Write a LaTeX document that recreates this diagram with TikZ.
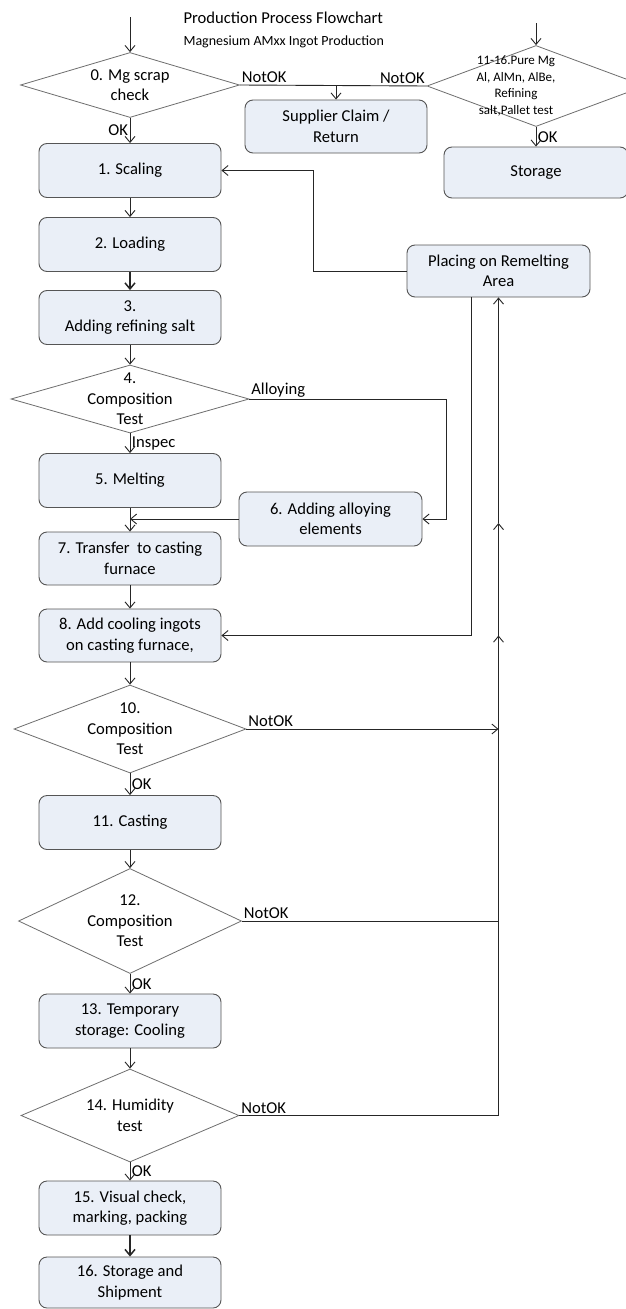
\documentclass[tikz,border=0pt]{standalone}
\usepackage{fontspec}
\setmainfont{Carlito}
\usepackage{xcolor}
\usetikzlibrary{arrows.meta,positioning,shapes.geometric}
\definecolor{boxfill}{RGB}{234,239,247}
\definecolor{edgegray}{RGB}{85,85,85}

\begin{document}
\begin{tikzpicture}[x=1pt, y=-1pt,
    every node/.style={font=\fontsize{16.6}{20.5}\selectfont},
    stepbox/.style={draw=edgegray, fill=boxfill, rounded corners=8pt, line width=0.9pt, minimum width=182pt, minimum height=54pt, align=center, inner sep=2pt},
    decision/.style={draw=edgegray!85, fill=white, diamond, line width=0.8pt, inner sep=0pt},
    decisiontext/.style={align=center},
    flow/.style={draw=black!85, line width=0.9pt, -{Straight Barb[length=6pt,width=10pt]}},
    link/.style={draw=black!85, line width=0.9pt},
    edgelabel/.style={inner sep=1.5pt}]
    \path[use as bounding box, fill=white] (0,0) rectangle (625,1309);

    % Title
    \node[anchor=west] (title) at (180,18) {Production Process Flowchart};
    \node[anchor=west, font=\fontsize{14}{17}\selectfont] (subtitle) at (180,42) {Magnesium AMxx Ingot Production};

    % Mg scrap check
    \coordinate (in0) at (130,17);
    \node[decision, minimum width=219pt, minimum height=65pt, label={[decisiontext]center:0. Mg scrap\\check}] (scrap0) at (130,85) {};

    % Raw material test
    \coordinate (in11) at (536,23);
    \node[decision, minimum width=218pt, minimum height=81pt, label={[decisiontext, xshift=-20pt, font=\fontsize{13}{16.5}\selectfont]center:{11-16.Pure Mg\\Al, AlMn, AlBe,\\Refining\\salt,Pallet test}}] (rawtest) at (536,86) {};

    % Claim and storage
    \node[stepbox, minimum height=53pt] (claim) at (336,126.5) {Supplier Claim /\\Return};
    \node[stepbox, minimum width=184pt, minimum height=51pt] (storage) at (536,172.5) {Storage};

    % Main column
    \node[stepbox] (scaling) at (130,170.5) {1. Scaling};
    \node[stepbox] (loading) at (130,244.5) {2. Loading};
    \node[stepbox] (refining) at (130,317.5) {3.\\Adding refining salt};
    \node[decision, minimum width=238pt, minimum height=68pt, label={[decisiontext]center:4.\\Composition\\Test}] (comp4) at (130,399) {};
    \node[stepbox] (melting) at (130,480.5) {5. Melting};
    \node[stepbox, minimum width=183pt] (alloying) at (330.5,519) {6. Adding alloying\\elements};
    \node[stepbox, minimum height=53pt] (transfer) at (130,558.5) {7. Transfer\ \ to casting\\furnace};
    \node[stepbox, minimum height=53pt] (cooling) at (130,635.5) {8. Add cooling ingots\\on casting furnace,};
    \node[decision, minimum width=232pt, minimum height=88pt, label={[decisiontext]center:10.\\Composition\\Test}] (comp10) at (130,729) {};
    \node[stepbox] (casting) at (130,822.5) {11. Casting};
    \node[decision, minimum width=223pt, minimum height=105pt, label={[decisiontext]center:12.\\Composition\\Test}] (comp12) at (130,921) {};
    \node[stepbox] (cooldown) at (130,1021) {13. Temporary\\storage: Cooling};
    \node[decision, minimum width=218pt, minimum height=93pt, label={[decisiontext]center:14. Humidity\\test}] (humid) at (130,1115.5) {};
    \node[stepbox] (visual) at (130,1208) {15. Visual check,\\marking, packing};
    \node[stepbox, minimum height=51pt] (shipment) at (130,1282.5) {16. Storage and\\Shipment};

    % Remelting
    \node[stepbox, minimum width=183pt, minimum height=52pt] (remelt) at (498.5,271) {Placing on Remelting\\Area};

    % Top connectors
    \draw[flow] (in0) -- (scrap0.north);
    \draw[flow] (scrap0.south) -- node[left, edgelabel] {OK} (scaling.north);
    \draw[link] (scrap0.east) -- (rawtest.west)
        node[pos=0, above right, edgelabel] {NotOK}
        node[pos=1, above left, edgelabel] {NotOK};
    \coordinate (claimin) at (claim.north |- scrap0.east);
    \draw[flow] (claimin) -- (claim.north);
    \draw[flow] (in11) -- (rawtest.north);
    \draw[flow] (rawtest.south) -- node[right, edgelabel] {OK} (storage.north);

    % Main flow
    \draw[flow] (scaling.south) -- (loading.north);
    \draw[flow, line width=1.5pt] (loading.south) -- (refining.north);
    \draw[flow] (refining.south) -- (comp4.north);
    \draw[flow] (comp4.south) -- node[right, edgelabel] {Inspec} (melting.north);
    \draw[flow] (comp4.east) -- node[pos=0, above right, edgelabel] {Alloying} ++(197,0) |- (alloying.east);
    \coordinate (meltjoin) at (melting.south |- alloying.west);
    \draw[flow] (alloying.west) -- (meltjoin);
    \draw[flow] (melting.south) -- (transfer.north);
    \draw[flow] (transfer.south) -- (cooling.north);
    \draw[flow] (cooling.south) -- (comp10.north);
    \draw[flow] (comp10.south) -- node[right, edgelabel] {OK} (casting.north);
    \draw[flow] (casting.south) -- (comp12.north);
    \draw[flow] (comp12.south) -- node[right, edgelabel] {OK} (cooldown.north);
    \draw[flow] (cooldown.south) -- (humid.north);
    \draw[flow] (humid.south) -- node[right, edgelabel] {OK} (visual.north);
    \draw[flow, line width=1.5pt] (visual.south) -- (shipment.north);

    % Remelting loops
    \draw[flow] (remelt.west) -- ++(-93,0) |- (scaling.east);
    \draw[flow] ([xshift=-27.5pt]remelt.south) |- (cooling.east);

    % NotOK returns
    \coordinate (retlow) at (498.5,523);
    \coordinate (retmid) at (remelt.south |- cooling.east);
    \draw[flow] (comp10.east) -- node[pos=0, above right, edgelabel] {NotOK} (comp10.east -| remelt.south);
    \draw[flow] (comp12.east) -- node[pos=0, above right, edgelabel] {NotOK} (comp12.east -| remelt.south) -- (retmid);
    \draw[flow] (humid.east) -- node[pos=0, above right, edgelabel] {NotOK} (humid.east -| remelt.south) -- (retlow);
    \draw[flow] (retlow) -- (remelt.south);
\end{tikzpicture}
\end{document}
